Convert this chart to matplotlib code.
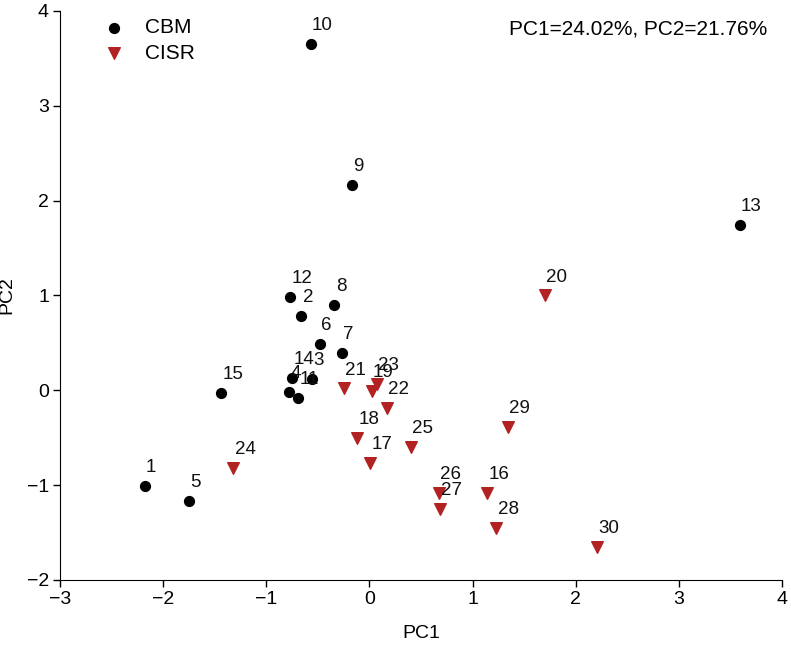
import matplotlib
matplotlib.use("Agg")
import matplotlib.pyplot as plt

plt.rcParams["font.family"] = ["Liberation Sans", "DejaVu Sans"]

cbm_ids = [1, 2, 3, 4, 5, 6, 7, 8, 9, 10, 11, 12, 13, 14, 15]
cbm_pc1 = [-2.18, -0.66, -0.56, -0.78, -1.75, -0.48, -0.27, -0.34, -0.17, -0.57, -0.69, -0.77, 3.59, -0.75, -1.44]
cbm_pc2 = [-1.01, 0.78, 0.12, -0.02, -1.17, 0.49, 0.39, 0.90, 2.17, 3.65, -0.08, 0.98, 1.74, 0.13, -0.03]

cisr_ids = [16, 17, 18, 19, 20, 21, 22, 23, 24, 25, 26, 27, 28, 29, 30]
cisr_pc1 = [1.14, 0.01, -0.12, 0.02, 1.70, -0.25, 0.17, 0.07, -1.32, 0.40, 0.67, 0.68, 1.23, 1.34, 2.21]
cisr_pc2 = [-1.08, -0.77, -0.50, -0.01, 1.00, 0.02, -0.19, 0.07, -0.82, -0.60, -1.08, -1.25, -1.45, -0.39, -1.65]

fig = plt.figure(figsize=(7.91, 6.45), dpi=100)
ax = fig.add_axes([0.0759, 0.1008, 0.9127, 0.8822])

ax.scatter(cbm_pc1, cbm_pc2, s=50, marker="o", color="black", label="CBM", zorder=3)
ax.scatter(cisr_pc1, cisr_pc2, s=70, marker="v", color="#b22222", label="CISR", zorder=3)

for i, x, y in zip(cbm_ids + cisr_ids, cbm_pc1 + cisr_pc1, cbm_pc2 + cisr_pc2):
    ax.annotate(str(i), (x, y), xytext=(1, 10), textcoords="offset points",
                fontsize=13.5, color="#111111")

ax.set_xlim(-3, 4)
ax.set_ylim(-2, 4)
ax.set_xticks(range(-3, 5))
ax.set_yticks(range(-2, 5))
ax.tick_params(direction="out", length=5, width=1, pad=3, labelsize=14)
ax.spines["top"].set_visible(False)
ax.spines["right"].set_visible(False)
ax.set_xlabel("PC1", fontsize=14, labelpad=12)
ax.set_ylabel("PC2", fontsize=14, labelpad=8)

ax.legend(loc="upper left", bbox_to_anchor=(0.02, 1.02), frameon=False, fontsize=15,
          handletextpad=0.5, labelspacing=0.3)
ax.text(0.98, 0.985, "PC1=24.02%, PC2=21.76%", transform=ax.transAxes,
        ha="right", va="top", fontsize=15)

fig.savefig("out.png", dpi=100)
